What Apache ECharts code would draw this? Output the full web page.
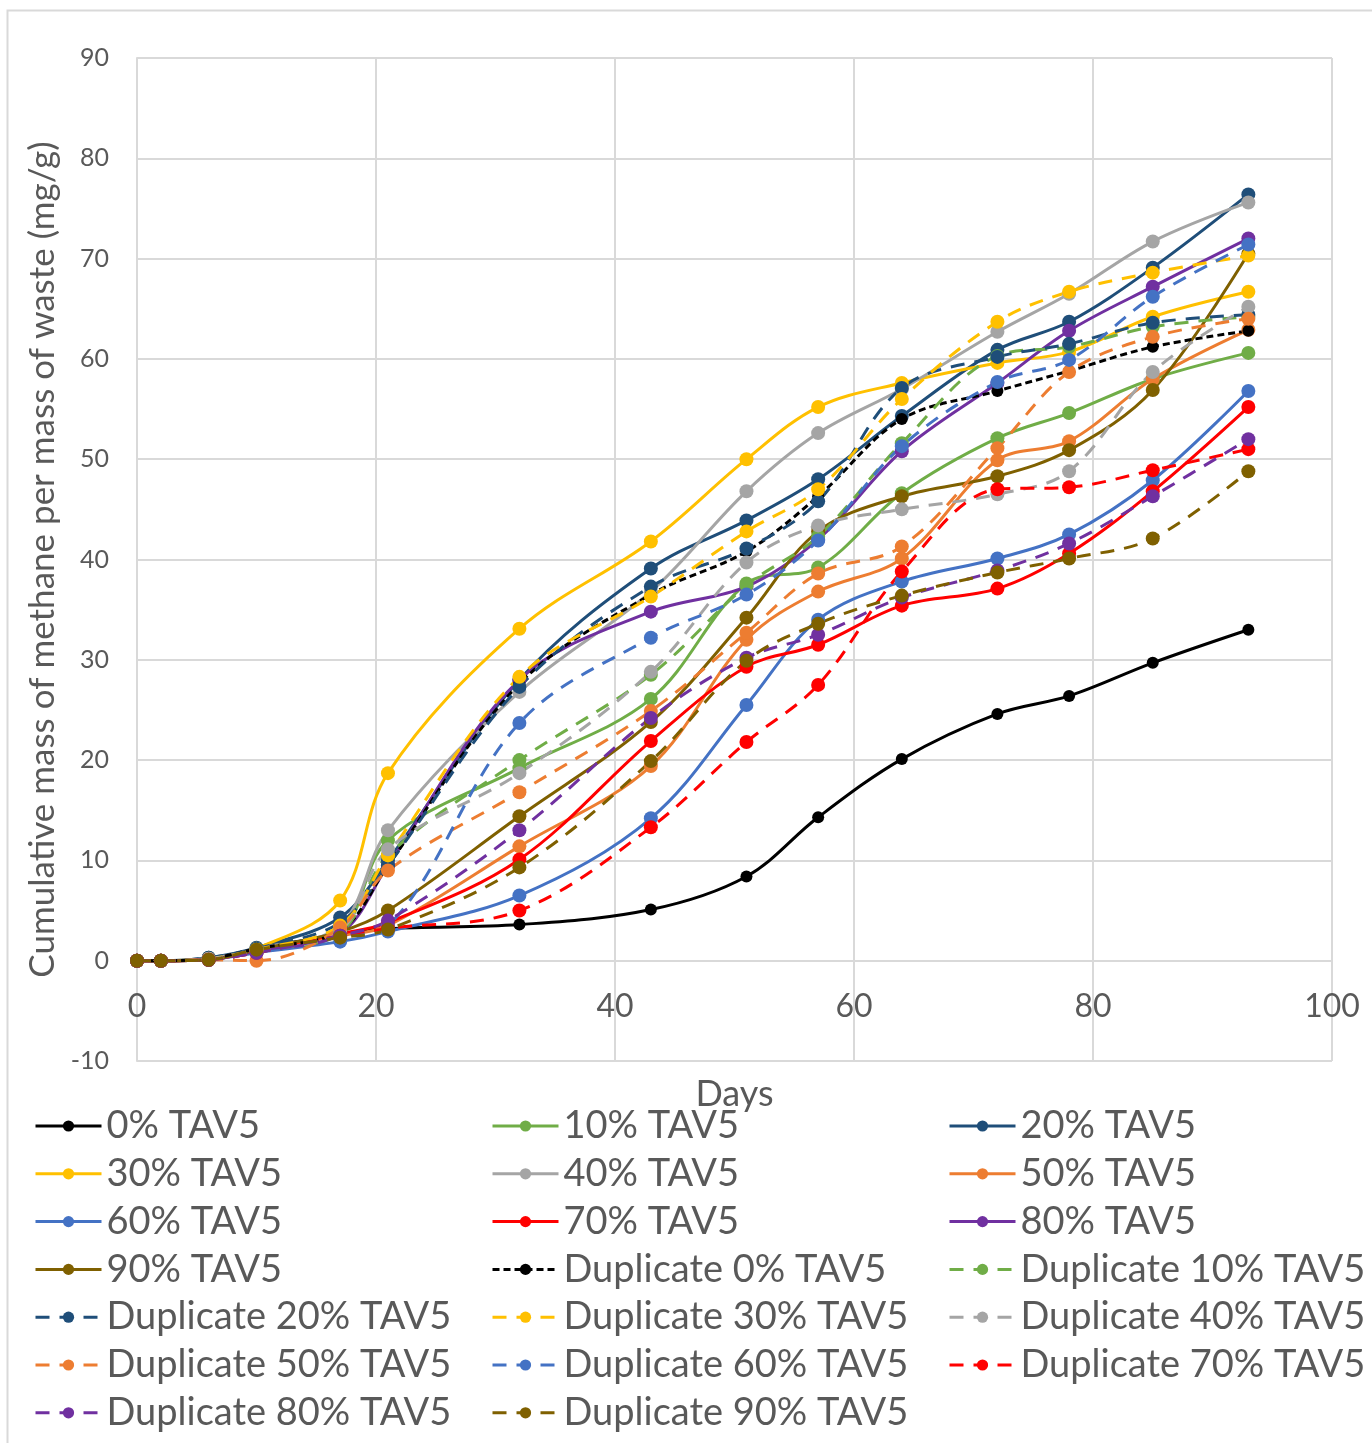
<!DOCTYPE html>
<html>
<head>
<meta charset="utf-8">
<title>Cumulative methane</title>
<script src="https://cdn.jsdelivr.net/npm/echarts@6/dist/echarts.min.js"></script>
<style>
  html, body { margin: 0; padding: 0; background: #fff; }
  #chart { width: 1372px; height: 1443px; }
</style>
</head>
<body>
<div id="chart"></div>
<script>
  // sampling days
  const days = [0, 2, 6, 10, 17, 21, 32, 43, 51, 57, 64, 72, 78, 85, 93]

  // cumulative methane (mg/g)
  const tav0  = [0, 0, 0.1, 1.2, 2.6, 3.2, 3.6, 5.1, 8.4, 14.3, 20.1, 24.6, 26.4, 29.7, 33.0]
  const tav10 = [0, 0, 0.2, 1.0, 2.8, 12.0, 19.2, 26.1, 37.6, 39.2, 46.6, 52.1, 54.6, 58.0, 60.6]
  const tav20 = [0, 0, 0.3, 1.3, 4.3, 10.0, 28.0, 39.1, 43.9, 48.0, 54.3, 60.9, 63.7, 69.1, 76.4]
  const tav30 = [0, 0, 0.2, 1.2, 6.0, 18.7, 33.1, 41.8, 50.0, 55.2, 57.6, 59.6, 60.7, 64.2, 66.7]
  const tav40 = [0, 0, 0.2, 1.2, 3.5, 13.0, 26.8, 36.8, 46.8, 52.6, 57.0, 62.7, 66.5, 71.7, 75.6]
  const tav50 = [0, 0, 0.1, 1.0, 2.5, 3.5, 11.4, 19.4, 32.0, 36.8, 40.1, 49.9, 51.8, 58.0, 62.9]
  const tav60 = [0, 0, 0.1, 0.8, 1.9, 2.9, 6.5, 14.2, 25.5, 34.0, 37.8, 40.1, 42.5, 47.9, 56.8]
  const tav70 = [0, 0, 0.1, 1.0, 2.7, 3.8, 10.1, 21.9, 29.3, 31.5, 35.4, 37.1, 40.6, 46.8, 55.2]
  const tav80 = [0, 0, 0.1, 1.0, 2.7, 9.5, 28.0, 34.8, 37.3, 42.0, 50.8, 57.6, 62.8, 67.2, 72.0]
  const tav90 = [0, 0, 0.1, 1.1, 2.9, 5.0, 14.4, 23.8, 34.2, 42.8, 46.3, 48.3, 50.9, 56.9, 70.5]
  const dup0  = [0, 0, 0.2, 1.2, 3.0, 9.5, 27.6, 36.5, 40.8, 46.3, 54.0, 56.8, 58.8, 61.2, 62.8]
  const dup10 = [0, 0, 0.2, 1.0, 2.8, 10.5, 20.0, 28.5, 37.4, 42.3, 51.6, 60.3, 61.2, 63.2, 64.2]
  const dup20 = [0, 0, 0.3, 1.2, 3.8, 9.5, 27.3, 37.3, 41.1, 45.8, 57.1, 60.2, 61.5, 63.6, 64.4]
  const dup30 = [0, 0, 0.2, 1.1, 3.5, 10.5, 28.3, 36.3, 42.8, 47.0, 56.0, 63.7, 66.7, 68.6, 70.3]
  const dup40 = [0, 0, 0.2, 1.0, 3.0, 11.1, 18.7, 28.8, 39.7, 43.4, 45.0, 46.5, 48.8, 58.7, 65.2]
  const dup50 = [0, 0, 0.1, 0.0, 3.3, 9.0, 16.8, 24.9, 32.7, 38.6, 41.3, 51.1, 58.7, 62.2, 64.0]
  const dup60 = [0, 0, 0.1, 0.8, 2.5, 3.5, 23.7, 32.2, 36.5, 41.9, 51.3, 57.7, 59.9, 66.2, 71.4]
  const dup70 = [0, 0, 0.1, 0.8, 2.5, 3.2, 5.0, 13.3, 21.8, 27.5, 38.8, 47.0, 47.2, 48.9, 51.0]
  const dup80 = [0, 0, 0.1, 0.8, 2.5, 4.0, 13.0, 24.2, 30.2, 32.5, 36.2, 38.9, 41.6, 46.3, 52.0]
  const dup90 = [0, 0, 0.1, 1.1, 2.3, 3.1, 9.3, 19.9, 29.9, 33.6, 36.4, 38.7, 40.1, 42.1, 48.8]

  const names = [
    '0% TAV5', '10% TAV5', '20% TAV5', '30% TAV5', '40% TAV5',
    '50% TAV5', '60% TAV5', '70% TAV5', '80% TAV5', '90% TAV5',
    'Duplicate 0% TAV5', 'Duplicate 10% TAV5', 'Duplicate 20% TAV5', 'Duplicate 30% TAV5', 'Duplicate 40% TAV5',
    'Duplicate 50% TAV5', 'Duplicate 60% TAV5', 'Duplicate 70% TAV5', 'Duplicate 80% TAV5', 'Duplicate 90% TAV5'
  ]
  const values = [tav0, tav10, tav20, tav30, tav40, tav50, tav60, tav70, tav80, tav90,
    dup0, dup10, dup20, dup30, dup40, dup50, dup60, dup70, dup80, dup90]
  const colors = ['#000000', '#70AD47', '#1F4E79', '#FFC000', '#A5A5A5',
    '#ED7D31', '#4472C4', '#FF0000', '#7030A0', '#7F6000']

  const font = 'Lato'
  const textColor = '#595959'
  const gridColor = '#D9D9D9'

  const series = names.map((name, i) => {
    const dup = i >= 10
    const color = colors[i % 10]
    return {
      name: name,
      type: 'line',
      smooth: 0.35,
      symbol: 'circle',
      symbolSize: i === 0 || i === 10 ? 12 : 14,
      showAllSymbol: true,
      itemStyle: { color: color },
      lineStyle: {
        color: color,
        width: 3,
        type: dup ? (i === 10 ? [7, 4] : [14, 10]) : 'solid'
      },
      data: days.map((d, k) => [d, values[i][k]])
    }
  })

  // three legend columns, row order as in the figure
  const col = (c) => names.filter((n, i) => i % 3 === c)
  const legendBase = {
    orient: 'vertical',
    top: 1101,
    itemWidth: 66,
    itemHeight: 14,
    itemGap: 7.8,
    selectedMode: false,
    lineStyle: { width: 3 },
    textStyle: { fontFamily: font, fontSize: 38, color: textColor, lineHeight: 40 }
  }

  const chart = echarts.init(document.getElementById('chart'), null, { renderer: 'canvas' })
  chart.setOption({
    animation: false,
    backgroundColor: '#fff',
    graphic: [{
      type: 'rect',
      shape: { x: 7.5, y: 10.5, width: 1380, height: 1450 },
      style: { fill: 'none', stroke: gridColor, lineWidth: 2 },
      silent: true
    }],
    grid: { left: 137, right: 40, top: 58, bottom: 382 },
    legend: [
      Object.assign({ left: 29, data: col(0) }, legendBase),
      Object.assign({ left: 486, data: col(1) }, legendBase),
      Object.assign({ left: 943, data: col(2) }, legendBase)
    ],
    xAxis: {
      type: 'value',
      min: 0,
      max: 100,
      interval: 20,
      // axis sits on y = 0 (100 px above the grid bottom)
      offset: -100,
      name: 'Days',
      nameLocation: 'middle',
      nameGap: 115,
      nameTextStyle: { fontFamily: font, fontSize: 36, color: textColor },
      axisLine: { onZero: false, lineStyle: { color: gridColor, width: 2 } },
      axisTick: { show: false },
      axisLabel: { fontFamily: font, fontSize: 32, color: textColor, margin: 30 },
      splitLine: { show: true, lineStyle: { color: gridColor, width: 2 } }
    },
    yAxis: {
      type: 'value',
      min: -10,
      max: 90,
      interval: 10,
      name: 'Cumulative mass of methane per mass of waste (mg/g)',
      nameLocation: 'middle',
      nameGap: 77,
      nameTextStyle: { fontFamily: font, fontSize: 35, color: textColor },
      axisLine: { show: true, lineStyle: { color: gridColor, width: 2 } },
      axisTick: { show: false },
      axisLabel: { fontFamily: font, fontSize: 25, color: textColor, margin: 28 },
      splitLine: { show: true, lineStyle: { color: gridColor, width: 2 } }
    },
    series: series
  })
</script>
</body>
</html>
